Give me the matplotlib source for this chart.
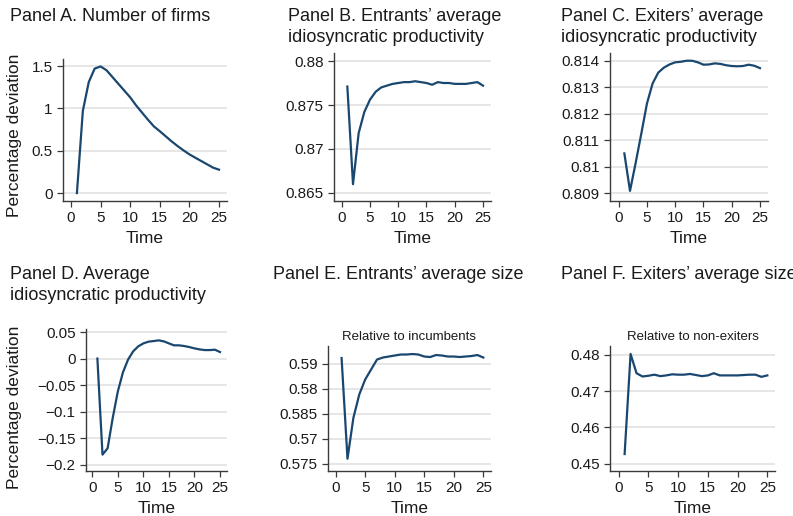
import matplotlib
matplotlib.use("Agg")
import matplotlib.pyplot as plt
from matplotlib.ticker import FixedLocator, FixedFormatter

plt.rcParams['font.family'] = ['Liberation Sans', 'DejaVu Sans']

W, H = 793, 516
time = list(range(1, 26))

firms = [0.0, 0.97, 1.31, 1.47, 1.495, 1.45, 1.37, 1.29, 1.21, 1.13, 1.035, 0.95, 0.866,
         0.787, 0.73, 0.67, 0.61, 0.555, 0.504, 0.457, 0.417, 0.378, 0.339, 0.30, 0.276]
entr_prod = [0.8771, 0.8660, 0.8718, 0.8742, 0.8756, 0.8765, 0.8770, 0.8772, 0.8774, 0.8775,
             0.8776, 0.8776, 0.8777, 0.8776, 0.8775, 0.8773, 0.8776, 0.8775, 0.8775, 0.8774,
             0.8774, 0.8774, 0.8775, 0.8776, 0.8772]
exit_prod = [0.8105, 0.80908, 0.81014, 0.81125, 0.81239, 0.81315, 0.81356, 0.81375, 0.81387,
             0.81395, 0.81397, 0.81401, 0.81401, 0.81395, 0.81386, 0.81387, 0.81391, 0.81389,
             0.81384, 0.81381, 0.8138, 0.81381, 0.81386, 0.81382, 0.81373]
avg_prod = [0.0, -0.181, -0.169, -0.112, -0.062, -0.026, -0.002, 0.0136, 0.023, 0.0286, 0.0318,
            0.033, 0.0343, 0.0324, 0.0286, 0.0249, 0.0249, 0.0236, 0.0217, 0.0192, 0.0173,
            0.016, 0.016, 0.0167, 0.0123]
entr_size = [0.5962, 0.5760, 0.5842, 0.5889, 0.5919, 0.5939, 0.5959, 0.5963, 0.5965, 0.5967,
             0.5969, 0.5969, 0.5970, 0.5969, 0.5965, 0.5964, 0.5968, 0.5967, 0.5965, 0.5965,
             0.5964, 0.5965, 0.5966, 0.5968, 0.5963]
exit_size = [0.45266, 0.4802, 0.4749, 0.4740, 0.4742, 0.4745, 0.4741, 0.4743, 0.4746, 0.4745,
             0.4745, 0.4747, 0.4744, 0.4741, 0.4743, 0.4749, 0.4743, 0.4743, 0.4743, 0.4743,
             0.4744, 0.4745, 0.4745, 0.4739, 0.4743]

xticks = [0, 5, 10, 15, 20, 25]
yticks_a = [0, 0.5, 1, 1.5]
ylabels_a = ['0', '0.5', '1', '1.5']
yticks_b = [0.865, 0.87, 0.875, 0.88]
ylabels_b = ['0.865', '0.87', '0.875', '0.88']
yticks_c = [0.809, 0.81, 0.811, 0.812, 0.813, 0.814]
ylabels_c = ['0.809', '0.81', '0.811', '0.812', '0.813', '0.814']
yticks_d = [-0.2, -0.15, -0.1, -0.05, 0, 0.05]
ylabels_d = ['\u22120.2', '\u22120.15', '\u22120.1', '\u22120.05', '0', '0.05']
yticks_e = [0.575, 0.58, 0.585, 0.59, 0.595]
ylabels_e = ['0.575', '0.57', '0.585', '0.58', '0.59']
yticks_f = [0.45, 0.46, 0.47, 0.48]
ylabels_f = ['0.45', '0.46', '0.47', '0.48']

LINE = '#1a476f'
GRID = '#e2e2e2'
TXT = '#1a1a1a'
SPINE = '#3a3a3a'

fig = plt.figure(figsize=(W / 100, H / 100), dpi=100)


def make_ax(x0, x1, ytop, ybot, xlim, ylim):
    ax = fig.add_axes([x0 / W, (H - ybot) / H, (x1 - x0) / W, (ybot - ytop) / H])
    ax.set_xlim(*xlim)
    ax.set_ylim(*ylim)
    for s in ['top', 'right']:
        ax.spines[s].set_visible(False)
    for s in ['left', 'bottom']:
        ax.spines[s].set_color(SPINE)
        ax.spines[s].set_linewidth(1.0)
    ax.tick_params(axis='both', direction='out', length=4.5, width=0.9, color=SPINE,
                   labelsize=11, labelcolor=TXT)
    ax.tick_params(axis='x', pad=2.5)
    ax.tick_params(axis='y', pad=3.0)
    ax.set_xticks(xticks)
    ax.set_xticklabels([str(v) for v in xticks])
    ax.grid(axis='y', color=GRID, linewidth=1.2)
    ax.set_axisbelow(True)
    return ax


def finish(ax, y, yt, yl, title_lines, title_x, title_base, sub=None):
    ax.plot(time, y, color=LINE, linewidth=1.6, solid_joinstyle='round')
    ax.yaxis.set_major_locator(FixedLocator(yt))
    ax.yaxis.set_major_formatter(FixedFormatter(yl))
    for i, line in enumerate(title_lines):
        fig.text(title_x / W, (H - (title_base + 21 * i)) / H, line, fontsize=13,
                 color=TXT, ha='left', va='baseline')
    bb = ax.get_position()
    cx = (bb.x0 + bb.x1) / 2
    fig.text(cx, bb.y0 - 42 / H, 'Time', fontsize=12.5, color=TXT, ha='center', va='baseline')
    if sub:
        fig.text(cx, bb.y1 + 6 / H, sub, fontsize=9.5, color=TXT, ha='center', va='baseline')


axA = make_ax(63, 227, 59, 201, (-1.35, 26.35), (-0.094, 1.583))
finish(axA, firms, yticks_a, ylabels_a, ['Panel A. Number of firms'], 10, 20.7)
axB = make_ax(334, 491, 53, 201, (-1.36, 26.41), (0.86409, 0.88091))
finish(axB, entr_prod, yticks_b, ylabels_b,
       ['Panel B. Entrants\u2019 average', 'idiosyncratic productivity'], 288, 20.7)
axC = make_ax(610, 768, 53, 201, (-1.54, 26.42), (0.808697, 0.814303))
finish(axC, exit_prod, yticks_c, ylabels_c,
       ['Panel C. Exiters\u2019 average', 'idiosyncratic productivity'], 561, 20.7)
axD = make_ax(86, 227, 329, 471.3, (-1.23, 26.37), (-0.2124, 0.0557))
finish(axD, avg_prod, yticks_d, ylabels_d,
       ['Panel D. Average', 'idiosyncratic productivity'], 10, 278.7)
axE = make_ax(328, 490.7, 346, 471.3, (-1.30, 26.25), (0.57348, 0.59861))
finish(axE, entr_size, yticks_e, ylabels_e,
       ['Panel E. Entrants\u2019 average size'], 273, 278.7, sub='Relative to incumbents')
axF = make_ax(610.3, 774.7, 346, 471.3, (-1.41, 26.24), (0.44791, 0.48239))
finish(axF, exit_size, yticks_f, ylabels_f,
       ['Panel F. Exiters\u2019 average size'], 561, 278.7, sub='Relative to non-exiters')

fig.text(15 / W, (H - 135) / H, 'Percentage deviation', fontsize=12.5, color=TXT,
         rotation=90, ha='center', va='center')
fig.text(15 / W, (H - 407) / H, 'Percentage deviation', fontsize=12.5, color=TXT,
         rotation=90, ha='center', va='center')

fig.savefig('out.png', dpi=100)
